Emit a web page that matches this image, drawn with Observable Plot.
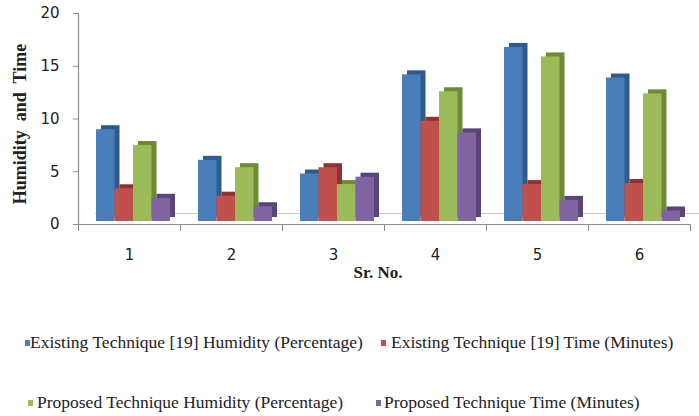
<!DOCTYPE html>
<html><head><meta charset="utf-8">
<script src="https://cdn.jsdelivr.net/npm/d3@7"></script>
<script src="https://cdn.jsdelivr.net/npm/@observablehq/plot@0.6"></script>
<style>
body{margin:0;background:#fff;width:699px;height:416px;overflow:hidden}
#chart{position:relative;width:699px;height:290px}
#legend{position:relative;width:699px;height:126px;font-family:"Liberation Serif","Times New Roman",serif;font-size:17.5px;color:#222}
.sw{position:absolute;width:5px;height:6px}
.tx{position:absolute;white-space:nowrap;line-height:20px}
</style>
</head><body><div id="chart"></div><div id="legend"></div>
<script>
const groups = ["1","2","3","4","5","6"];
const seriesNames = [
  "Existing Technique [19] Humidity (Percentage)",
  "Existing Technique [19] Time (Minutes)",
  "Proposed Technique Humidity (Percentage)",
  "Proposed Technique Time (Minutes)"
];
const existingHumidity = [8.7, 5.8, 4.5, 13.9, 16.5, 13.6];
const existingTime     = [3.1, 2.4, 5.1, 9.5, 3.5, 3.6];
const proposedHumidity = [7.2, 5.1, 3.5, 12.3, 15.6, 12.1];
const proposedTime     = [2.2, 1.4, 4.2, 8.4, 2.0, 1.0];
const yTicks = [0, 5, 10, 15, 20];

const frontColors = ["#4a7ebb", "#c0504d", "#9bbb59", "#8064a2"];
const sideColors  = ["#2e5a8e", "#8e3330", "#6e8a36", "#5a4479"];
const seriesValues = [existingHumidity, existingTime, proposedHumidity, proposedTime];

const rows = [];
seriesValues.forEach((vals, s) => vals.forEach((v, i) => rows.push({group: groups[i], series: s, value: v})));

const step = 102, barW = 18.5, lead = 18;
const marks = [];
// floor back edge
marks.push(Plot.ruleY([0], {dy: -11, dx: 17, stroke: "#c8c8c8", strokeWidth: 1.2}));
// 3D side/top faces
seriesValues.forEach((vals, s) => {
  marks.push(Plot.rectY(rows.filter(d => d.series === s), {
    x: "group", y: "value", fill: sideColors[s],
    insetLeft: lead + barW * s, insetRight: step - lead - barW * (s + 1),
    dx: 5, dy: -7
  }));
});
// front faces
seriesValues.forEach((vals, s) => {
  marks.push(Plot.rectY(rows.filter(d => d.series === s), {
    x: "group", y: "value", fill: frontColors[s],
    insetLeft: lead + barW * s, insetRight: step - lead - barW * (s + 1),
    dy: -3
  }));
});
marks.push(Plot.frame({anchor: "left", stroke: "#8c8c8c", strokeWidth: 1.2}));
marks.push(Plot.ruleY([0], {stroke: "#8c8c8c", strokeWidth: 1.2}));
marks.push(Plot.axisY({ticks: yTicks, tickSize: 5, tickPadding: 14, stroke: "#8c8c8c",
  fontSize: 15, fontFamily: "DejaVu Sans, Verdana, sans-serif", fill: "#222", label: null}));
marks.push(Plot.axisX({tickSize: 0, tickPadding: 25, fontSize: 15,
  fontFamily: "DejaVu Sans, Verdana, sans-serif", fill: "#222", label: null}));
marks.push(Plot.axisX({tickSize: 7, dx: -step / 2, tickFormat: () => "", stroke: "#8c8c8c", label: null}));
marks.push(Plot.axisX({tickSize: 7, dx: step / 2, tickFormat: () => "", stroke: "#8c8c8c", label: null}));

const plot = Plot.plot({
  width: 699, height: 290,
  marginLeft: 78, marginRight: 9, marginTop: 13, marginBottom: 66,
  x: {type: "band", domain: groups, padding: 0},
  y: {domain: [0, 20], ticks: yTicks},
  style: {background: "transparent", overflow: "visible"},
  marks
});
document.getElementById("chart").appendChild(plot);

// axis titles
const svg = d3.select(plot);
svg.append("text").attr("transform", "translate(26,124) rotate(-90)")
  .attr("text-anchor", "middle").attr("xml:space", "preserve")
  .style("font-family", "Liberation Serif, Times New Roman, serif").style("font-weight", "bold")
  .style("font-size", "18px").attr("fill", "#222").text("Humidity  and  Time");
svg.append("text").attr("x", 378).attr("y", 278)
  .attr("text-anchor", "middle")
  .style("font-family", "Liberation Serif, Times New Roman, serif").style("font-weight", "bold")
  .style("font-size", "17px").attr("fill", "#222").text("Sr. No.");

// legend: [square x, text x, center y]
const legendPos = [[25, 30, 342], [381, 391, 342], [28, 37, 402], [376, 384, 402]];
const legend = document.getElementById("legend");
seriesNames.forEach((name, s) => {
  const [sx, tx, cy] = legendPos[s];
  const sq = document.createElement("div");
  sq.className = "sw";
  sq.style.left = sx + "px";
  sq.style.top = (cy - 290 - 2) + "px";
  sq.style.background = frontColors[s];
  legend.appendChild(sq);
  const t = document.createElement("div");
  t.className = "tx";
  t.style.left = tx + "px";
  t.style.top = (cy - 290 - 10) + "px";
  t.textContent = name;
  legend.appendChild(t);
});
</script>
</body></html>
